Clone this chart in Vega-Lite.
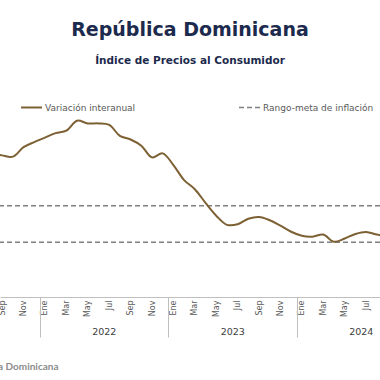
{
  "$schema": "https://vega.github.io/schema/vega-lite/v6.json",
  "width": 380,
  "height": 201,
  "autosize": {"type": "none"},
  "padding": {"left": 0, "top": 96, "right": 0, "bottom": 83},
  "background": "white",
  "title": {
    "text": "República Dominicana",
    "subtitle": "Índice de Precios al Consumidor",
    "anchor": "middle",
    "font": "DejaVu Sans",
    "fontSize": 19,
    "fontWeight": "bold",
    "color": "#1c2a4d",
    "subtitleFont": "DejaVu Sans",
    "subtitleFontSize": 10.5,
    "subtitleFontWeight": "bold",
    "subtitleColor": "#1c2a4d",
    "offset": 30,
    "subtitlePadding": 16
  },
  "config": {"view": {"stroke": null}, "font": "DejaVu Sans"},
  "datasets": {
    "ipc": [
      {"m": -1, "v": 7.9, "serie": "Variación interanual"},
      {"m": 0, "v": 7.75, "serie": "Variación interanual"},
      {"m": 1, "v": 7.68, "serie": "Variación interanual"},
      {"m": 2, "v": 8.2, "serie": "Variación interanual"},
      {"m": 3, "v": 8.48, "serie": "Variación interanual"},
      {"m": 4, "v": 8.72, "serie": "Variación interanual"},
      {"m": 5, "v": 8.97, "serie": "Variación interanual"},
      {"m": 6, "v": 9.1, "serie": "Variación interanual"},
      {"m": 7, "v": 9.65, "serie": "Variación interanual"},
      {"m": 8, "v": 9.5, "serie": "Variación interanual"},
      {"m": 9, "v": 9.5, "serie": "Variación interanual"},
      {"m": 10, "v": 9.42, "serie": "Variación interanual"},
      {"m": 11, "v": 8.82, "serie": "Variación interanual"},
      {"m": 12, "v": 8.62, "serie": "Variación interanual"},
      {"m": 13, "v": 8.28, "serie": "Variación interanual"},
      {"m": 14, "v": 7.64, "serie": "Variación interanual"},
      {"m": 15, "v": 7.86, "serie": "Variación interanual"},
      {"m": 16, "v": 7.22, "serie": "Variación interanual"},
      {"m": 17, "v": 6.4, "serie": "Variación interanual"},
      {"m": 18, "v": 5.9, "serie": "Variación interanual"},
      {"m": 19, "v": 5.15, "serie": "Variación interanual"},
      {"m": 20, "v": 4.45, "serie": "Variación interanual"},
      {"m": 21, "v": 3.95, "serie": "Variación interanual"},
      {"m": 22, "v": 3.98, "serie": "Variación interanual"},
      {"m": 23, "v": 4.28, "serie": "Variación interanual"},
      {"m": 24, "v": 4.38, "serie": "Variación interanual"},
      {"m": 25, "v": 4.2, "serie": "Variación interanual"},
      {"m": 26, "v": 3.9, "serie": "Variación interanual"},
      {"m": 27, "v": 3.57, "serie": "Variación interanual"},
      {"m": 28, "v": 3.35, "serie": "Variación interanual"},
      {"m": 29, "v": 3.3, "serie": "Variación interanual"},
      {"m": 30, "v": 3.42, "serie": "Variación interanual"},
      {"m": 31, "v": 3.02, "serie": "Variación interanual"},
      {"m": 32, "v": 3.2, "serie": "Variación interanual"},
      {"m": 33, "v": 3.45, "serie": "Variación interanual"},
      {"m": 34, "v": 3.56, "serie": "Variación interanual"},
      {"m": 35, "v": 3.42, "serie": "Variación interanual"},
      {"m": 36, "v": 3.3, "serie": "Variación interanual"}
    ],
    "meta": [
      {"serie": "Rango-meta de inflación", "v": 3},
      {"serie": "Rango-meta de inflación", "v": 5}
    ]
  },
  "resolve": {"axis": {"x": "independent"}},
  "layer": [
    {
      "data": {"name": "meta"},
      "mark": {"type": "rule", "color": "#808080", "strokeWidth": 1.5, "strokeDash": [5, 3]},
      "encoding": {
        "y": {"field": "v", "type": "quantitative", "scale": {"domain": [0, 11], "nice": false}, "axis": null},
        "opacity": {
          "field": "serie", "type": "nominal",
          "scale": {"range": [1]},
          "legend": {
            "orient": "none", "legendX": 238, "legendY": 0, "title": null,
            "symbolType": "stroke", "symbolSize": 440, "symbolStrokeWidth": 1.5,
            "symbolStrokeColor": "#808080", "symbolDash": [5, 3],
            "labelFontSize": 9, "labelColor": "#595959", "labelOffset": 2
          }
        }
      }
    },
    {
      "data": {"name": "ipc"},
      "mark": {"type": "line", "interpolate": "catmull-rom", "strokeWidth": 2, "clip": true},
      "encoding": {
        "x": {
          "field": "m", "type": "quantitative",
          "scale": {"domain": [-0.2, 35.3], "nice": false, "zero": false},
          "axis": {
            "orient": "bottom",
            "values": [0, 2, 4, 6, 8, 10, 12, 14, 16, 18, 20, 22, 24, 26, 28, 30, 32, 34],
            "labelExpr": "['Ene','Feb','Mar','Abr','May','Jun','Jul','Ago','Sep','Oct','Nov','Dic'][(datum.value + 8) % 12]",
            "labelAngle": 270,
            "ticks": false,
            "grid": false,
            "domainColor": "#bfbfbf",
            "labelFontSize": 8,
            "labelColor": "#595959",
            "labelPadding": 3,
            "labelFlush": false,
            "labelOverlap": false,
            "labelBound": false,
            "title": "Fuente: Banco Central de la República Dominicana",
            "titleX": 58,
            "titleY": 72,
            "titleAlign": "right",
            "titleBaseline": "alphabetic",
            "titleFont": "Lato",
            "titleColor": "#8c8c8c",
            "titleFontSize": 10,
            "titleFontWeight": "bold"
          }
        },
        "y": {"field": "v", "type": "quantitative", "axis": null},
        "color": {
          "field": "serie", "type": "nominal",
          "scale": {"range": ["#7d6134"]},
          "legend": {
            "orient": "none", "legendX": 20, "legendY": 0, "title": null,
            "symbolType": "stroke", "symbolSize": 440, "symbolStrokeWidth": 2,
            "labelFontSize": 9, "labelColor": "#595959", "labelOffset": 2
          }
        }
      }
    },
    {
      "data": {"name": "ipc"},
      "mark": {"type": "line", "opacity": 0, "clip": true},
      "encoding": {
        "x": {
          "field": "m", "type": "quantitative",
          "axis": {
            "orient": "bottom",
            "values": [3.5, 15.5, 27.5, 9.5, 21.5, 33.5],
            "labelExpr": "datum.value == 9.5 ? '2022' : datum.value == 21.5 ? '2023' : datum.value == 33.5 ? '2024' : ''",
            "tickSize": 40,
            "tickColor": {"expr": "datum.value == 3.5 || datum.value == 15.5 || datum.value == 27.5 ? '#bfbfbf' : 'transparent'"},
            "tickWidth": 1,
            "domain": false,
            "grid": false,
            "labelAngle": 0,
            "labelPadding": -11,
            "labelFontSize": 9.5,
            "labelColor": "#404040",
            "labelFlush": false,
            "labelOverlap": false,
            "labelBound": false,
            "title": null
          }
        },
        "y": {"field": "v", "type": "quantitative"}
      }
    }
  ]
}
